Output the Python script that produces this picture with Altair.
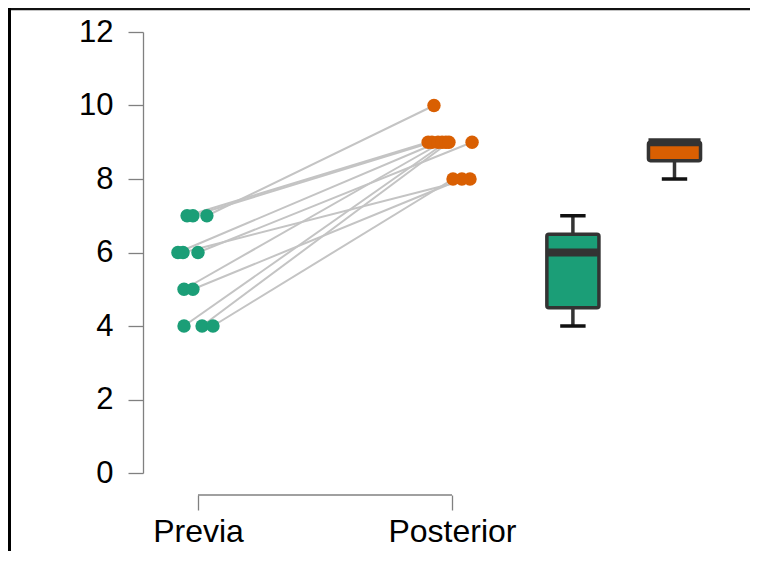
import altair as alt
import pandas as pd
import numpy as np

# ---- data ----
subjects = list(range(1, 12))
previa = [7, 7, 7, 6, 6, 6, 5, 5, 4, 4, 4]
posterior = [10, 9, 9, 9, 8, 9, 9, 8, 9, 9, 8]
jitter_previa = [0.035, -0.043, -0.020, -0.079, -0.059, 0.000, -0.055, -0.020, -0.055, 0.016, 0.059]
jitter_posterior = [-0.071, -0.094, -0.079, -0.055, 0.071, 0.079, -0.039, 0.039, -0.024, -0.012, 0.004]
groups = ["Previa", "Posterior"]
group_pos = [1, 2]
box_pos = [2.476, 2.876]
colors = ["#1b9e77", "#d95f02"]
y_ticks = [0, 2, 4, 6, 8, 10, 12]

W, H = 592, 441
BOX_HALF = 0.1025
CAP_HALF = 0.05

rows = []
for s, a, b, ja, jb in zip(subjects, previa, posterior, jitter_previa, jitter_posterior):
    rows.append({"subject": s, "group": groups[0], "x": group_pos[0] + ja, "value": a})
    rows.append({"subject": s, "group": groups[1], "x": group_pos[1] + jb, "value": b})
df = pd.DataFrame(rows)

def box_stats(vals):
    v = np.array(vals, dtype=float)
    q1, med, q3 = np.percentile(v, [25, 50, 75])
    iqr = q3 - q1
    lo = v[v >= q1 - 1.5 * iqr].min()
    hi = v[v <= q3 + 1.5 * iqr].max()
    return q1, med, q3, lo, hi

brows = []
for g, vals, c, bp in zip(groups, [previa, posterior], colors, box_pos):
    q1, med, q3, lo, hi = box_stats(vals)
    brows.append({"group": g, "c": bp, "l": bp - BOX_HALF, "r": bp + BOX_HALF,
                  "cl": bp - CAP_HALF, "cr": bp + CAP_HALF,
                  "q1": q1, "med": med, "q3": q3, "lo": lo, "hi": hi})
bdf = pd.DataFrame(brows)

xscale = alt.Scale(domain=[0.7835, 3.1142], nice=False, zero=False)
yscale = alt.Scale(domain=[0, 12], nice=False, zero=False)
color_scale = alt.Scale(domain=groups, range=colors)

x_axis = alt.Axis(values=group_pos, labelExpr="datum.value == 1 ? 'Previa' : 'Posterior'",
                  title=None, grid=False, domain=False, offset=22, tickSize=15,
                  tickColor="#808080", tickWidth=1.3, labelFontSize=32, labelColor="black",
                  labelFont="Liberation Sans", labelPadding=6)
y_axis = alt.Axis(values=y_ticks, title=None, grid=False, domain=True, domainColor="#808080",
                  domainWidth=1.3, tickSize=15, tickColor="#808080", tickWidth=1.3,
                  labelFontSize=31, labelColor="black", labelFont="Liberation Sans", labelPadding=15)

base = alt.Chart(df)

lines = base.mark_line(color="#c4c4c4", strokeWidth=2).encode(
    x=alt.X("x:Q", scale=xscale, axis=x_axis),
    y=alt.Y("value:Q", scale=yscale, axis=y_axis),
    detail="subject:N",
)

points = base.mark_circle(size=180, opacity=1).encode(
    x=alt.X("x:Q", scale=xscale),
    y=alt.Y("value:Q", scale=yscale),
    color=alt.Color("group:N", scale=color_scale, legend=None),
)

bbase = alt.Chart(bdf)
whisk = bbase.mark_rule(color="#333333", strokeWidth=3.5).encode(
    x=alt.X("c:Q", scale=xscale), y=alt.Y("lo:Q", scale=yscale), y2="hi:Q")
cap_lo = bbase.mark_rule(color="#111111", strokeWidth=3.5).encode(
    x=alt.X("cl:Q", scale=xscale), x2="cr:Q", y=alt.Y("lo:Q", scale=yscale))
cap_hi = bbase.mark_rule(color="#111111", strokeWidth=3.5).encode(
    x=alt.X("cl:Q", scale=xscale), x2="cr:Q", y=alt.Y("hi:Q", scale=yscale))
box = bbase.mark_rect(stroke="#333333", strokeWidth=3.5, cornerRadius=2, opacity=1).encode(
    x=alt.X("l:Q", scale=xscale), x2="r:Q",
    y=alt.Y("q1:Q", scale=yscale), y2="q3:Q",
    color=alt.Color("group:N", scale=color_scale, legend=None))
median = bbase.mark_rule(color="#333333", strokeWidth=8).encode(
    x=alt.X("l:Q", scale=xscale), x2="r:Q", y=alt.Y("med:Q", scale=yscale))

# x axis line between the two category ticks
xline = alt.Chart(pd.DataFrame({"a": [group_pos[0]], "b": [group_pos[1]]})).mark_rule(
    color="#808080", strokeWidth=1.3).encode(
    x=alt.X("a:Q", scale=xscale), x2="b:Q", y=alt.value(H + 22))

# outer frame (top and left edges)
frame_top = alt.Chart(pd.DataFrame({"a": [0]})).mark_rule(color="#111111", strokeWidth=2.5).encode(
    x=alt.value(-135), x2=alt.value(W + 20), y=alt.value(-23))
frame_left = alt.Chart(pd.DataFrame({"a": [0]})).mark_rule(color="black", strokeWidth=3).encode(
    x=alt.value(-133.5), y=alt.value(-24), y2=alt.value(H + 90))

chart = alt.layer(
    frame_top, frame_left, xline, lines, points, whisk, cap_lo, cap_hi, box, median
).properties(
    width=W, height=H,
    background="white",
    autosize=alt.AutoSizeParams(type="none"),
    padding={"left": 135, "top": 24, "right": 15, "bottom": 78},
).configure_view(stroke="transparent", strokeWidth=0)

chart.save("out.html", embed_options={"renderer": "svg", "actions": False})
